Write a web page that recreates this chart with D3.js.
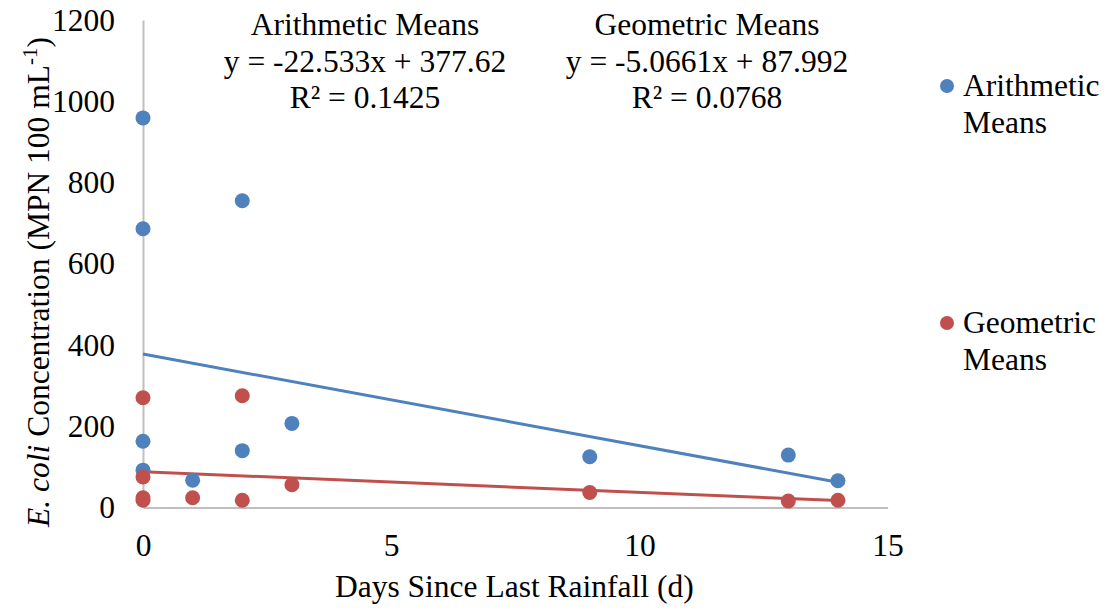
<!DOCTYPE html>
<html>
<head>
<meta charset="utf-8">
<script src="https://cdn.jsdelivr.net/npm/d3@7"></script>
<style>
  body { margin: 0; background: #fff; }
  text { font-family: "Liberation Serif", "Times New Roman", serif; fill: #000; }
</style>
</head>
<body>
<div id="chart"></div>
<script>
// days since last rainfall and concentrations
const arithDays = [0, 0, 0, 0, 1, 2, 2, 3, 9, 13, 14];
const arithVals = [959, 686, 163, 92, 67, 755, 140, 207, 125, 129, 66];
const geoDays = [0, 0, 0, 0, 1, 2, 2, 3, 9, 13, 14];
const geoVals = [270, 75, 24, 18, 24, 275, 18, 56, 37, 16, 18];
const xTicks = [0, 5, 10, 15];
const yTicks = [0, 200, 400, 600, 800, 1000, 1200];
// fitted trend lines printed on the chart
const arithFit = { slope: -22.533, intercept: 377.62, r2: "0.1425" };
const geoFit = { slope: -5.0661, intercept: 87.992, r2: "0.0768" };

const width = 1108, height = 612;
const margin = { top: 20, right: 220, bottom: 104.5, left: 143 };
const fs = "31.5px";

const svg = d3.select("#chart").append("svg")
  .attr("width", width)
  .attr("height", height);

const x = d3.scaleLinear().domain([0, 15]).range([margin.left, 887.6]);
const y = d3.scaleLinear().domain([0, 1200]).range([height - margin.bottom, margin.top]);

// axes
const xAxis = svg.append("g")
  .attr("transform", "translate(0," + y(0) + ")")
  .call(d3.axisBottom(x).tickValues(xTicks).tickSize(0).tickPadding(26).tickFormat(d3.format("d")));
xAxis.select(".domain").attr("stroke", "#bfbfbf").attr("stroke-width", 2);
xAxis.selectAll("text").style("font-size", fs).style("font-family", "Liberation Serif");

const yAxis = svg.append("g")
  .attr("transform", "translate(" + x(0) + ",0)")
  .call(d3.axisLeft(y).tickValues(yTicks).tickSize(0).tickPadding(28).tickFormat(d3.format("d")));
yAxis.select(".domain").attr("stroke", "#bfbfbf").attr("stroke-width", 2);
yAxis.selectAll("text").style("font-size", fs).style("font-family", "Liberation Serif");

// axis titles
svg.append("text")
  .attr("x", (x(0) + x(15)) / 2 - 1)
  .attr("y", 597)
  .attr("text-anchor", "middle")
  .style("font-size", fs)
  .text("Days Since Last Rainfall (d)");

const yTitle = svg.append("text")
  .attr("transform", "translate(49,282) rotate(-90)")
  .attr("text-anchor", "middle")
  .style("font-size", fs);
yTitle.append("tspan").style("font-style", "italic").text("E. coli");
yTitle.append("tspan").text(" Concentration (MPN 100 mL");
yTitle.append("tspan").attr("dy", -12).style("font-size", "21px").text("-1");
yTitle.append("tspan").attr("dy", 12).text(")");

// trend lines over the data range
function trend(fit, color) {
  svg.append("line")
    .attr("x1", x(0)).attr("y1", y(fit.intercept))
    .attr("x2", x(14)).attr("y2", y(fit.intercept + fit.slope * 14))
    .attr("stroke", color)
    .attr("stroke-width", 3);
}
trend(arithFit, "#4f81bd");
trend(geoFit, "#c0504d");

// points
function points(days, vals, color) {
  svg.append("g").selectAll("circle")
    .data(days.map((d, i) => [d, vals[i]]))
    .enter().append("circle")
    .attr("cx", d => x(d[0]))
    .attr("cy", d => y(d[1]))
    .attr("r", 7.5)
    .attr("fill", color);
}
points(arithDays, arithVals, "#4f81bd");
points(geoDays, geoVals, "#c0504d");

// equation labels
function fitLabel(cx, title, fit) {
  const lines = [
    title,
    "y = " + fit.slope + "x + " + fit.intercept,
    "R² = " + fit.r2
  ];
  svg.append("g").selectAll("text")
    .data(lines)
    .enter().append("text")
    .attr("x", cx)
    .attr("y", (d, i) => 35 + i * 36.5)
    .attr("text-anchor", "middle")
    .style("font-size", fs)
    .text(d => d);
}
fitLabel(365, "Arithmetic Means", arithFit);
fitLabel(707, "Geometric Means", geoFit);

// legend
const legend = [
  { name: ["Arithmetic", "Means"], color: "#4f81bd", top: 86 },
  { name: ["Geometric", "Means"], color: "#c0504d", top: 323 }
];
legend.forEach(l => {
  svg.append("circle")
    .attr("cx", 947).attr("cy", l.top).attr("r", 7)
    .attr("fill", l.color);
  svg.append("g").selectAll("text")
    .data(l.name)
    .enter().append("text")
    .attr("x", 963)
    .attr("y", (d, i) => l.top + 10 + i * 37)
    .style("font-size", fs)
    .text(d => d);
});
</script>
</body>
</html>
